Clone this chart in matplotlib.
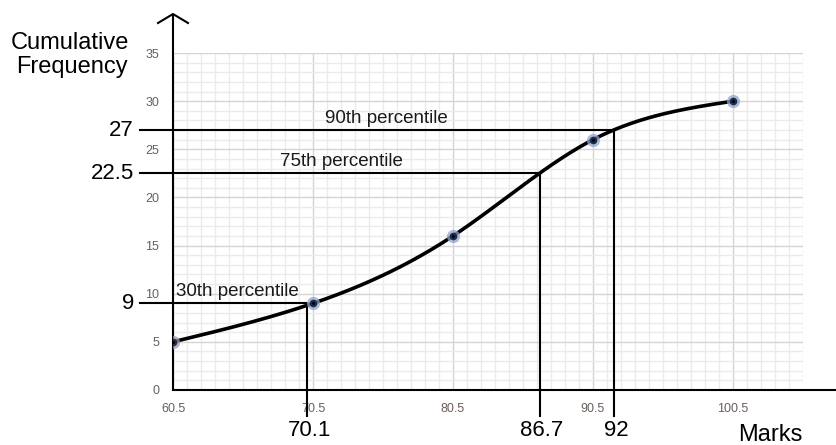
import numpy as np
import matplotlib
matplotlib.use("Agg")
import matplotlib.pyplot as plt

plt.rcParams['font.family'] = ['Liberation Sans', 'DejaVu Sans']

# ---- data ----
upper_bounds = [60.5, 70.5, 80.5, 90.5, 100.5]
cum_freq = [5, 9, 16, 26, 30]
x_ticks = [60.5, 70.5, 80.5, 90.5, 100.5]
y_ticks = [0, 5, 10, 15, 20, 25, 30, 35]
pct_names = ["30th percentile", "75th percentile", "90th percentile"]
pct_freq = [9, 22.5, 27]
pct_marks = [70.1, 86.7, 92]
freq_labels = ["9", "22.5", "27"]
mark_labels = ["70.1", "86.7", "92"]


def natural_spline(x, y, n=400):
    x = np.asarray(x, float)
    y = np.asarray(y, float)
    k = len(x)
    h = np.diff(x)
    A = np.zeros((k, k))
    b = np.zeros(k)
    A[0, 0] = 1
    A[-1, -1] = 1
    for i in range(1, k - 1):
        A[i, i - 1] = h[i - 1]
        A[i, i] = 2 * (h[i - 1] + h[i])
        A[i, i + 1] = h[i]
        b[i] = 6 * ((y[i + 1] - y[i]) / h[i] - (y[i] - y[i - 1]) / h[i - 1])
    M = np.linalg.solve(A, b)
    xs = np.linspace(x[0], x[-1], n)
    idx = np.clip(np.searchsorted(x, xs) - 1, 0, k - 2)
    x0, x1 = x[idx], x[idx + 1]
    hh = x1 - x0
    t0 = x1 - xs
    t1 = xs - x0
    ys = (M[idx] * t0 ** 3 / (6 * hh) + M[idx + 1] * t1 ** 3 / (6 * hh)
          + (y[idx] / hh - M[idx] * hh / 6) * t0
          + (y[idx + 1] / hh - M[idx + 1] * hh / 6) * t1)
    return xs, ys


W, H = 837, 445
fig = plt.figure(figsize=(W / 100, H / 100), dpi=100)
left_px, right_px, top_px, bot_px = 173, 803, 53, 390
ax = fig.add_axes([left_px / W, (H - bot_px) / H,
                   (right_px - left_px) / W, (bot_px - top_px) / H])
ax.set_xlim(60.5, 105.5)
ax.set_ylim(0, 35)

px_x = (105.5 - 60.5) / (right_px - left_px)   # data per pixel in x
px_y = 35 / (bot_px - top_px)                    # data per pixel in y

ax.set_xticks(x_ticks)
ax.set_xticklabels([str(v) for v in x_ticks])
ax.set_yticks(y_ticks)
ax.set_xticks(np.arange(60.5, 105.6, 1), minor=True)
ax.set_yticks(np.arange(0, 35.1, 1), minor=True)
ax.grid(which='minor', color='#ebebeb', lw=1.0)
ax.grid(which='major', color='#d4d4d4', lw=1.0)
ax.set_axisbelow(True)
ax.tick_params(which='both', length=0)
ax.tick_params(axis='x', pad=9, labelsize=9, labelcolor='#6a5f59')
ax.tick_params(axis='y', pad=10, labelsize=9, labelcolor='#6a5f59')
for s in ax.spines.values():
    s.set_visible(False)

# axes lines with arrow
y_top = (bot_px - 14) * px_y
ax.plot([60.5, 60.5], [0, y_top], color='black', lw=1.5, clip_on=False,
        solid_capstyle='butt')
ax.plot([60.5 - 15 * px_x, 60.5, 60.5 + 15 * px_x],
        [y_top - 9 * px_y, y_top, y_top - 9 * px_y],
        color='black', lw=1.5, clip_on=False)
ax.plot([60.5, 60.5 + (W - left_px) * px_x], [0, 0], color='black', lw=1.5,
        clip_on=False)

# percentile lines
x_start = 60.5 - 33 * px_x
y_end = -26 * px_y
for f, m in zip(pct_freq, pct_marks):
    ax.plot([x_start, m, m], [f, f, y_end], color='black', lw=1.5,
            clip_on=False, zorder=3)

# curve
xs, ys = natural_spline(upper_bounds, cum_freq)
ax.plot(xs, ys, color='black', lw=2.6, zorder=4, solid_capstyle='round')

# markers
halo = ['#9a9a9a'] + ['#8fa3cc'] * (len(upper_bounds) - 1)
for x, y, c in zip(upper_bounds, cum_freq, halo):
    ax.plot(x, y, 'o', ms=9.5, color=c, alpha=0.75, mec='none', zorder=5)
    ax.plot(x, y, 'o', ms=5.5, color='#1c2c4c', mec='none', zorder=6)
    ax.plot(x, y, 'o', ms=2.2, color='black', mec='none', zorder=7)

# percentile text
pct_text_x = [60.5 + 3 * px_x, 60.5 + (280 - left_px) * px_x,
              60.5 + (325 - left_px) * px_x]
for name, f, tx in zip(pct_names, pct_freq, pct_text_x):
    ax.text(tx, f + 7 * px_y, name, fontsize=13.5, ha='left', va='baseline',
            color='#1a1a1a')

for lab, f in zip(freq_labels, pct_freq):
    ax.text(60.5 - 39 * px_x, f, lab, fontsize=16, ha='right', va='center')

for lab, m in zip(mark_labels, pct_marks):
    ax.text(m + 2 * px_x, -41 * px_y, lab, fontsize=16, ha='center',
            va='center')

ax.text(60.5 + (770 - left_px) * px_x, -45 * px_y, "Marks", fontsize=17,
        ha='center', va='center')
ax.text(60.5 - 103 * px_x, (bot_px - 43) * px_y, "Cumulative", fontsize=17,
        ha='center', va='center')
ax.text(60.5 - 101 * px_x, (bot_px - 67) * px_y, "Frequency", fontsize=17,
        ha='center', va='center')

fig.savefig("out.png", dpi=100)
